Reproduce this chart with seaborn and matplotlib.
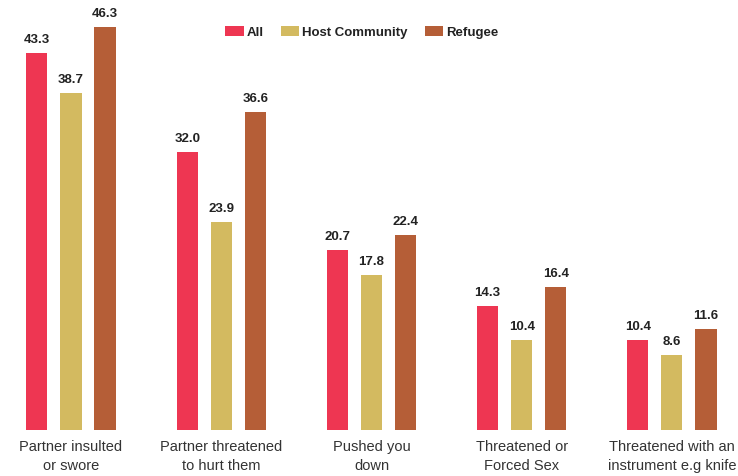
import matplotlib
matplotlib.use("Agg")
import matplotlib.pyplot as plt
import seaborn as sns
import pandas as pd

categories = [
    "Partner insulted\nor swore",
    "Partner threatened\nto hurt them",
    "Pushed you\ndown",
    "Threatened or\nForced Sex",
    "Threatened with an\ninstrument e.g knife",
]
groups = ["All", "Host Community", "Refugee"]
all_vals = [43.3, 32.0, 20.7, 14.3, 10.4]
host_vals = [38.7, 23.9, 17.8, 10.4, 8.6]
refugee_vals = [46.3, 36.6, 22.4, 16.4, 11.6]
colors = ["#EE3652", "#D3BA60", "#B55E37"]

rows = []
for g, vals in zip(groups, [all_vals, host_vals, refugee_vals]):
    for c, v in zip(categories, vals):
        rows.append({"category": c, "group": g, "value": v})
df = pd.DataFrame(rows)

sns.set_style("white")
plt.rcParams["font.family"] = ["Liberation Sans", "DejaVu Sans"]

fig = plt.figure(figsize=(7.38, 4.76), dpi=100)
ax = fig.add_axes([0, (476 - 430) / 476, 1, 430 / 476])

sns.barplot(data=df, x="category", y="value", hue="group", order=categories,
            hue_order=groups, palette=colors, width=0.68, gap=0.38,
            saturation=1, errorbar=None, linewidth=0, ax=ax)

for cont in ax.containers:
    ax.bar_label(cont, fmt="%.1f", padding=5, fontsize=9.5, fontweight="bold",
                 color="#222222")

ax.set_xlim(-0.4725, 4.44)
ax.set_ylim(0, 430 / 8.7)
ax.set_xlabel("")
ax.set_ylabel("")
ax.set_yticks([])
ax.tick_params(axis="x", length=0, pad=7, labelsize=10.5, labelcolor="#333333")
for lbl in ax.get_xticklabels():
    lbl.set_linespacing(1.45)
sns.despine(ax=ax, left=True, bottom=True)

leg = ax.legend(loc="upper center", bbox_to_anchor=(0.49, 0.967), ncol=3,
                frameon=False, handlelength=1.4, handleheight=0.8,
                handletextpad=0.2, columnspacing=1.3, fontsize=9.5)
for t in leg.get_texts():
    t.set_fontweight("bold")
    t.set_color("#222222")

fig.savefig("out.png", dpi=100)
